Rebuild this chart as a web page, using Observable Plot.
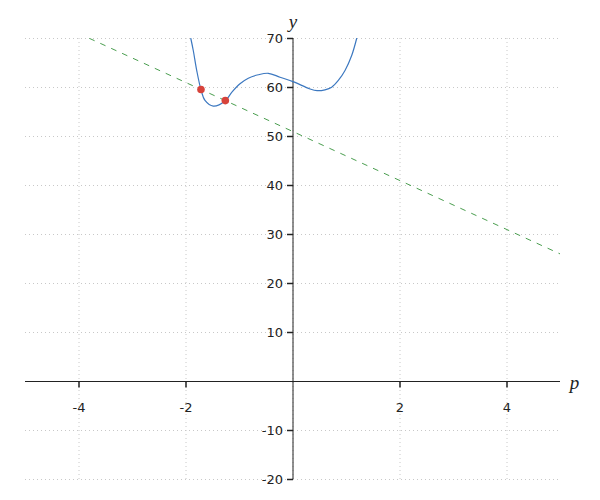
<!DOCTYPE html>
<html>
<head>
<meta charset="utf-8">
<script src="https://cdn.jsdelivr.net/npm/d3@7"></script>
<script src="https://cdn.jsdelivr.net/npm/@observablehq/plot@0.6"></script>
<style>
  html, body { margin: 0; padding: 0; background: #fff; }
</style>
</head>
<body>
<div id="chart"></div>
<script>
// Curve samples (p, y)
const curveP = [-1.91, -1.864, -1.80, -1.72, -1.645, -1.49, -1.265, -1.146, -0.991, -0.836, -0.649, -0.462, -0.243, 0, 0.318, 0.45, 0.598, 0.723, 0.847, 0.972, 1.097, 1.19];
const curveY = [70, 67.55, 63.5, 59.55, 57.35, 56.2, 57.3, 59.0, 60.76, 61.9, 62.6, 62.9, 62.1, 61.2, 59.7, 59.35, 59.53, 60.06, 61.43, 63.47, 66.53, 70];
// Dashed secant line end points
const lineP = [-3.8, 5];
const lineY = [70, 26];
// Intersection points
const pointP = [-1.72, -1.265];
const pointY = [59.6, 57.33];
// Ticks
const xTicks = [-4, -2, 2, 4];
const yTicks = [-20, -10, 10, 20, 30, 40, 50, 60, 70];
const xGrid = [-4, -2, 0, 2, 4];
const yGrid = [-20, -10, 0, 10, 20, 30, 40, 50, 60, 70];

const curve = curveP.map((p, i) => ({p, y: curveY[i]}));
const line = lineP.map((p, i) => ({p, y: lineY[i]}));
const pts = pointP.map((p, i) => ({p, y: pointY[i]}));

const tickDown = {draw(ctx) { ctx.moveTo(0, 0); ctx.lineTo(0, 6); }};
const tickLeft = {draw(ctx) { ctx.moveTo(0, 0); ctx.lineTo(-6, 0); }};

const chart = Plot.plot({
  width: 600,
  height: 500,
  marginLeft: 25,
  marginRight: 40,
  marginTop: 38,
  marginBottom: 21,
  x: {domain: [-5, 5], axis: null},
  y: {domain: [-20, 70], axis: null},
  style: {fontFamily: "DejaVu Sans", fontSize: "13px", background: "#fff", color: "#222"},
  marks: [
    Plot.ruleX(xGrid, {x: d => d, stroke: "#c8c8c8", strokeDasharray: "1,3"}),
    Plot.ruleY(yGrid, {y: d => d, stroke: "#c8c8c8", strokeDasharray: "1,3"}),
    Plot.ruleY([0], {stroke: "#222", strokeWidth: 1}),
    Plot.ruleX([0], {stroke: "#222", strokeWidth: 1}),
    Plot.dot(xTicks, {x: d => d, y: 0, symbol: tickDown, r: 3, stroke: "#222", fill: "none"}),
    Plot.dot(yTicks, {x: 0, y: d => d, symbol: tickLeft, r: 3, stroke: "#222", fill: "none"}),
    Plot.text(xTicks, {x: d => d, y: 0, text: d => String(d), dy: 26, fontSize: 13, fill: "#222"}),
    Plot.text(yTicks, {x: 0, y: d => d, text: d => String(d), dx: -10, textAnchor: "end", fontSize: 13, fill: "#222"}),
    Plot.line(line, {x: "p", y: "y", stroke: "#4a9e4f", strokeWidth: 1, strokeDasharray: "5,7", clip: true}),
    Plot.line(curve, {x: "p", y: "y", stroke: "#3c78c0", strokeWidth: 1.2, curve: "catmull-rom", clip: true}),
    Plot.dot(pts, {x: "p", y: "y", r: 3.8, fill: "#d7433b", stroke: "none"}),
    Plot.text(["y"], {x: 0, y: 70, text: d => d, dy: -17, fontFamily: "Liberation Serif", fontStyle: "italic", fontSize: 19, fill: "#222"}),
    Plot.text(["p"], {x: 5, y: 0, text: d => d, dx: 14, dy: 1, fontFamily: "Liberation Serif", fontStyle: "italic", fontSize: 19, fill: "#222"})
  ]
});
document.getElementById("chart").appendChild(chart);
</script>
</body>
</html>
